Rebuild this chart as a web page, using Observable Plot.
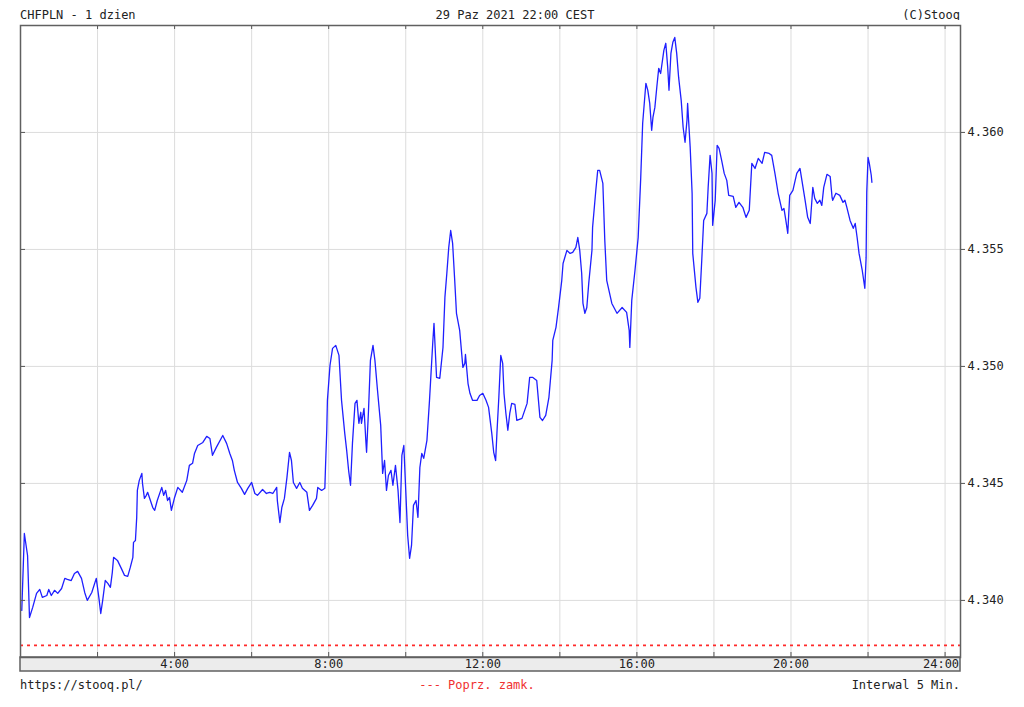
<!DOCTYPE html>
<html>
<head>
<meta charset="utf-8">
<script src="https://cdn.jsdelivr.net/npm/d3@7"></script>
<script src="https://cdn.jsdelivr.net/npm/@observablehq/plot@0.6"></script>
<style>
  html, body { margin: 0; padding: 0; background: #fff; }
  body { width: 1024px; height: 707px; position: relative; font-family: "DejaVu Sans Mono", monospace; font-size: 12px; color: #222; }
  .txt { position: absolute; white-space: pre; line-height: 14px; }
  #chart { position: absolute; left: 0; top: 20px; }
</style>
</head>
<body>
<div class="txt" style="left:20px; top:8px;">CHFPLN - 1 dzien</div>
<div class="txt" style="left:0; width:1030px; text-align:center; top:8px;">29 Paz 2021 22:00 CEST</div>
<div class="txt" style="right:64px; top:8px;">(C)Stooq</div>
<div id="chart"></div>
<div class="txt" style="left:20px; top:678px;">https://stooq.pl/</div>
<div class="txt" style="left:0; width:954px; text-align:center; top:678px; color:#f03030;">--- Poprz. zamk.</div>
<div class="txt" style="right:64px; top:678px;">Interwal 5 Min.</div>
<script>
// minutes after midnight
const minutes = [
2,6,11,14,19,25,30,34,41,44,
48,53,58,64,69,73,79,84,89,95,
100,104,111,118,122,125,128,132,136,140,
143,145,151,157,162,167,171,175,176,179,
181,182,185,189,190,193,196,198,206,209,
213,220,223,226,229,232,235,240,245,252,
259,263,268,271,276,284,290,295,299,305,
315,321,326,330,333,338,344,349,354,360,
365,369,377,383,388,393,399,400,404,407,
411,415,419,422,425,430,435,439,446,450,
455,461,463,469,474,
475,477,
478,482,486,491,496,
500,505,508,511,514,517,521,524,527,530,
531,535,538,539,542,545,549,552,556,561,
564,567,570,573,577,580,584,588,591,594,
597,600,603,606,609,612,616,619,622,625,
628,633,637,642,644,648,653,658,661,664,
667,670,673,676,679,684,689,692,693,697,
700,704,711,715,720,725,729,734,737,740,
742,745,748,751,753,756,759,762,765,770,
773,781,789,793,798,804,809,813,818,823,
828,829,834,838,843,845,851,856,860,865,
868,871,874,876,879,882,885,890,891,896,
899,902,907,910,913,921,929,937,944,948,
949,952,957,962,966,969,974,977,980,983,
985,988,991,994,997,1002,1005,1008,1010,1013,
1016,1019,1022,1025,1029,1032,1035,1038,1039,1043,
1046,1047,1052,1055,1058,1061,1064,1069,1071,1074,
1077,1078,1082,1085,1088,1092,1096,1100,1103,1110,
1114,1119,1125,1130,1135,1139,1144,1149,1155,1159,
1166,1170,1175,1180,1186,1189,1192,1195,1198,1203,
1209,1214,1217,1222,1226,1230,1234,1237,1241,1245,
1248,1251,1256,1261,1264,1265,1270,1276,1281,1284,
1287,1292,1297,1300,1303,1306,1311,1315,1317,1318,
1320,1322,1325,1326
];
// CHFPLN quotes
const quotes = [
4.33957,4.34286,4.34192,4.33927,4.33970,4.34030,4.34047,4.34013,4.34021,4.34047,
4.34021,4.34043,4.34030,4.34051,4.34094,4.34090,4.34085,4.34115,4.34124,4.34094,
4.34034,4.34000,4.34034,4.34094,4.34013,4.33944,4.34000,4.34085,4.34073,4.34056,
4.34120,4.34184,4.34171,4.34137,4.34107,4.34103,4.34141,4.34184,4.34248,4.34256,
4.34355,4.34470,4.34513,4.34543,4.34500,4.34436,4.34449,4.34462,4.34397,4.34385,
4.34427,4.34483,4.34449,4.34470,4.34427,4.34440,4.34385,4.34440,4.34483,4.34462,
4.34513,4.34577,4.34586,4.34628,4.34662,4.34675,4.34701,4.34692,4.34620,4.34654,
4.34705,4.34671,4.34628,4.34598,4.34556,4.34504,4.34479,4.34453,4.34479,4.34504,
4.34457,4.34449,4.34474,4.34457,4.34462,4.34457,4.34483,4.34427,4.34333,4.34397,
4.34436,4.34526,4.34633,4.34598,4.34504,4.34479,4.34504,4.34479,4.34462,4.34385,
4.34406,4.34436,4.34483,4.34470,4.34479,
4.34568,4.34727,
4.34855,4.35004,4.35077,4.35090,4.35047,
4.34855,4.34714,4.34641,4.34556,4.34492,4.34671,4.34842,4.34855,4.34757,4.34804,
4.34757,4.34821,4.34675,4.34633,4.34812,4.35026,4.35090,4.35026,4.34898,4.34748,
4.34543,4.34598,4.34470,4.34534,4.34556,4.34492,4.34577,4.34470,4.34333,4.34620,
4.34662,4.34470,4.34278,4.34180,4.34235,4.34406,4.34427,4.34355,4.34568,4.34628,
4.34607,4.34684,4.34855,4.35098,4.35184,4.34953,4.34949,4.35081,4.35295,4.35398,
4.35509,4.35581,4.35526,4.35381,4.35227,4.35154,4.34996,4.35013,4.35051,4.34927,
4.34885,4.34855,4.34855,4.34876,4.34885,4.34855,4.34825,4.34714,4.34633,4.34598,
4.34714,4.34868,4.35047,4.35013,4.34885,4.34799,4.34727,4.34799,4.34842,4.34838,
4.34769,4.34778,4.34842,4.34953,4.34953,4.34940,4.34782,4.34769,4.34791,4.34868,
4.35026,4.35111,4.35167,4.35252,4.35368,4.35440,4.35496,4.35483,4.35487,4.35509,
4.35551,4.35496,4.35398,4.35269,4.35227,4.35252,4.35355,4.35496,4.35594,4.35752,
4.35838,4.35838,4.35782,4.35539,4.35368,4.35269,4.35227,4.35252,4.35231,4.35154,
4.35081,4.35282,4.35410,4.35551,4.35808,4.36039,4.36210,4.36180,4.36124,4.36009,
4.36064,4.36107,4.36193,4.36274,4.36252,4.36351,4.36381,4.36278,4.36180,4.36338,
4.36385,4.36406,4.36338,4.36235,4.36137,4.36022,4.35958,4.36052,4.36124,4.35936,
4.35740,4.35483,4.35338,4.35274,4.35291,4.35453,4.35624,4.35654,4.35765,4.35902,
4.35825,4.35603,4.35710,4.35945,4.35932,4.35881,4.35825,4.35795,4.35731,4.35727,
4.35680,4.35701,4.35680,4.35637,4.35667,4.35868,4.35846,4.35889,4.35868,4.35915,
4.35910,4.35902,4.35825,4.35740,4.35667,4.35675,4.35624,4.35569,4.35731,4.35752,
4.35825,4.35846,4.35795,4.35710,4.35637,4.35611,4.35765,4.35718,4.35697,4.35710,
4.35688,4.35765,4.35821,4.35812,4.35722,4.35710,4.35740,4.35731,4.35701,4.35710,
4.35680,4.35624,4.35590,4.35611,4.35551,4.35483,4.35410,4.35334,4.35466,4.35744,
4.35893,4.35868,4.35817,4.35787
];
const previousClose = 4.33808;
const yTicks = [4.340, 4.345, 4.350, 4.355, 4.360];
const gridHours = [2, 4, 6, 8, 10, 12, 14, 16, 18, 20, 22, 24];
const labelHours = [4, 8, 12, 16, 20, 24];

const n = Math.min(minutes.length, quotes.length);
const series = d3.range(n).map(i => ({h: minutes[i] / 60, v: quotes[i]}));

const yMin = 4.33756, yMax = 4.36457;
const pxY = (yMax - yMin) / 632; // value per pixel
const xDom = [0, 24.4];

const chart = Plot.plot({
  width: 1024,
  height: 652,
  marginTop: 5,
  marginBottom: 15,
  marginLeft: 20,
  marginRight: 64,
  x: {domain: xDom, axis: null},
  y: {domain: [yMin, yMax], axis: null},
  style: {fontFamily: "DejaVu Sans Mono, monospace", fontSize: "12px", background: "white", overflow: "visible"},
  marks: [
    Plot.ruleX(gridHours, {x: d => d, stroke: "#dcdcdc", strokeWidth: 1}),
    Plot.ruleY(yTicks, {y: d => d, stroke: "#dcdcdc", strokeWidth: 1}),
    Plot.ruleY([previousClose], {y: d => d, stroke: "#ff2a2a", strokeWidth: 1.6, strokeDasharray: "3,4"}),
    Plot.line(series, {x: "h", y: "v", stroke: "#1f1fff", strokeWidth: 1.3}),
    // bottom band
    Plot.rect([0], {x1: xDom[0], x2: xDom[1], y1: yMin, y2: yMin - 14 * pxY, fill: "#ececec", stroke: "#606060", strokeWidth: 1.5, clip: false}),
    // top and bottom tick marks
    Plot.ruleX(gridHours, {x: d => d, y1: yMax, y2: yMax - 4 * pxY, stroke: "#555"}),
    Plot.ruleX(gridHours, {x: d => d, y1: yMin, y2: yMin + 5 * pxY, stroke: "#555"}),
    // left inner ticks
    Plot.ruleY(yTicks, {y: d => d, x1: 0, x2: 5 / 38.5, stroke: "#555"}),
    // x labels in band
    Plot.text(labelHours.filter(d => d < 24), {x: d => d, y: yMin - 7 * pxY, text: d => d + ":00", fill: "#222", clip: false}),
    Plot.text(labelHours.filter(d => d >= 24), {x: d => d, y: yMin - 7 * pxY, text: d => d + ":00", textAnchor: "end", dx: 14, fill: "#222", clip: false}),
    Plot.frame({stroke: "#606060", strokeWidth: 1.5}),
    Plot.axisY(yTicks, {anchor: "right", label: null, tickSize: 4, tickPadding: 3, tickFormat: d3.format(".3f"), fill: "#222", stroke: "#555", fontSize: 12})
  ]
});
document.getElementById("chart").appendChild(chart);
</script>
</body>
</html>
